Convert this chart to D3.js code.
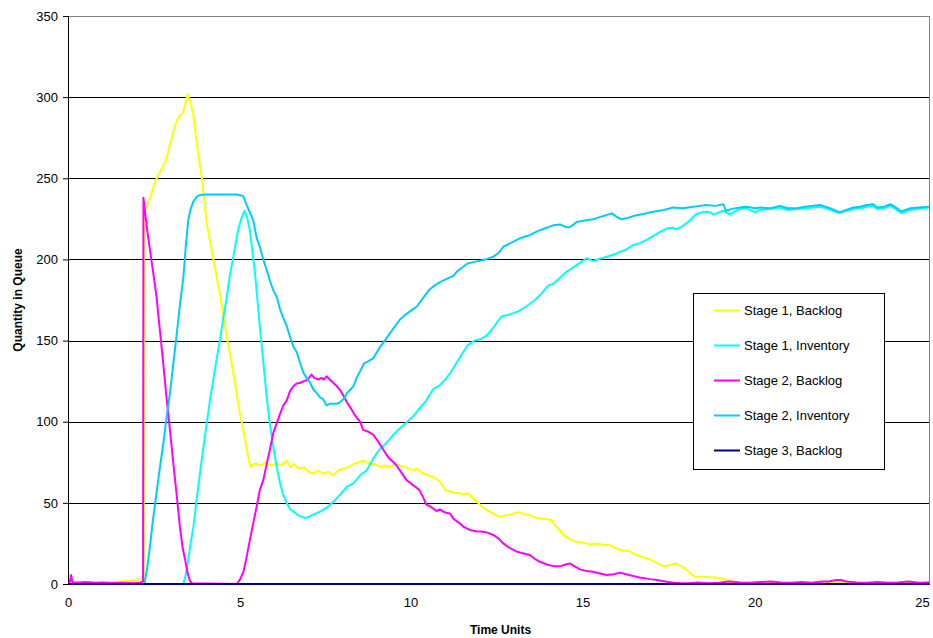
<!DOCTYPE html>
<html>
<head>
<meta charset="utf-8">
<script src="https://cdn.jsdelivr.net/npm/d3@7"></script>
<style>
  body { margin: 0; background: #fff; }
  text { font-family: "Liberation Sans", Arial, sans-serif; }
</style>
</head>
<body>
<div id="chart"></div>
<script>
// series values, [time, quantity]
var stage1Backlog = [[0,0.5],[0.3,1],[0.6,0.5],[0.9,1],[1.2,0.8],[1.5,1.5],[1.8,2],[2.0,2.5],[2.15,3],[2.2,2.5],
  [2.21,228],[2.35,236],[2.5,246],[2.62,252],[2.75,257],[2.86,262],[2.95,270],[3.06,279],[3.15,285],[3.25,289],
  [3.33,290],[3.4,295],[3.47,302],[3.55,297],[3.64,289],[3.75,270],[3.88,251],[4.03,222],[4.12,212],[4.22,200],
  [4.31,190],[4.41,179],[4.51,166],[4.61,152],[4.7,142],[4.8,130],[4.9,117],[4.99,105],[5.07,97],[5.14,89],
  [5.22,80],[5.3,72],[5.4,74],[5.5,74],[5.6,73],[5.75,75],[5.9,73],[6.05,74],[6.2,73],[6.35,76],[6.45,72],
  [6.55,74],[6.7,71],[6.85,72],[7.0,69],[7.12,68],[7.25,70],[7.4,68],[7.55,69],[7.7,67],[7.85,70],[8.0,71],
  [8.15,72],[8.3,74],[8.45,75],[8.6,76],[8.75,74],[8.9,74],[9.06,72],[9.2,73],[9.35,72],[9.5,74],[9.64,73],
  [9.8,72],[10.0,70],[10.15,71],[10.3,68],[10.45,67],[10.6,66],[10.8,63],[10.95,58],[11.09,57],[11.25,56],
  [11.38,56],[11.5,55],[11.62,56],[11.75,53],[11.86,51],[12.0,48],[12.15,45.6],[12.3,44],[12.45,42],[12.59,41.5],
  [12.75,42.5],[12.9,43],[13.0,44],[13.12,44],[13.25,43],[13.41,42.5],[13.55,41],[13.7,40.5],[13.85,40],
  [14.04,39.4],[14.15,36],[14.28,33],[14.4,30],[14.57,27.5],[14.75,26],[14.96,25.5],[15.15,24.5],[15.35,25],
  [15.55,24],[15.74,24],[15.9,22],[16.08,20.5],[16.27,20.5],[16.4,19],[16.51,17.9],[16.7,16.5],[16.9,15.2],
  [17.1,13],[17.28,11],[17.45,11.5],[17.6,12.5],[17.67,12.3],[17.8,11],[17.96,8.6],[18.1,6],[18.2,4.5],
  [18.4,4.5],[18.54,4.5],[18.7,4],[18.83,4],[18.95,3.5],[19.13,2.5],[19.3,1.5],[19.5,1],[19.8,0.8],[20.1,1.2],
  [20.5,0.5],[20.9,1],[21.3,0.5],[21.7,1],[22.1,0.5],[22.4,1.5],[22.7,0.8],[23.1,0.5],[23.5,1],[23.9,0.5],
  [24.3,1.2],[24.7,0.5],[25,1]];

var stage1Inventory = [[0,0],[3.35,0],[3.42,6],[3.49,15],[3.56,25],[3.64,35],[3.73,51],[3.83,68],[3.93,84],
  [4.03,99],[4.12,113],[4.22,126],[4.31,138],[4.41,150],[4.51,164],[4.61,177],[4.7,190],[4.8,201.7],[4.87,210],
  [4.94,218],[5.03,225],[5.12,230],[5.2,226],[5.28,218],[5.35,206],[5.43,191.5],[5.5,175],[5.57,158.5],
  [5.67,137],[5.77,115],[5.86,99],[5.96,84.6],[6.06,72],[6.16,62],[6.25,55],[6.35,50],[6.45,46],[6.55,44.6],
  [6.7,42],[6.85,41],[6.93,40.7],[7.05,42],[7.15,43],[7.32,44.6],[7.51,47],[7.7,50.7],[7.9,55],[8.1,60],
  [8.29,62],[8.48,67],[8.67,70],[8.8,75],[8.96,80.6],[9.1,84],[9.25,87],[9.45,92],[9.64,96],[9.85,100],
  [10.03,103.5],[10.2,108],[10.4,113],[10.6,120],[10.8,122.5],[10.95,126],[11.1,130],[11.3,137],[11.45,142],
  [11.6,147],[11.8,150],[12.0,151],[12.15,153],[12.3,156.5],[12.45,161],[12.6,165],[12.8,166],[13.07,168],
  [13.3,171],[13.56,175],[13.75,179],[13.95,184],[14.09,185],[14.25,188],[14.48,192.5],[14.6,194],[14.77,196.6],
  [14.94,199],[15.06,200.7],[15.25,199],[15.45,200.5],[15.64,201.7],[15.85,203],[16.03,204.8],[16.2,206],
  [16.41,208.9],[16.6,210],[16.8,212],[17.0,214.5],[17.19,217],[17.38,219],[17.55,219.5],[17.67,218.5],
  [17.8,220],[17.96,222.2],[18.1,225],[18.25,228],[18.4,229],[18.54,229.4],[18.65,229],[18.74,227.5],
  [18.9,229],[19.03,230],[19.15,228.5],[19.22,227.5],[19.35,229.5],[19.5,231],[19.7,231.5],[19.95,229],
  [20.1,230.5],[20.4,231],[20.67,232],[20.9,230.5],[21.16,231],[21.4,231.5],[21.6,232],[21.83,232.5],
  [22.0,231.5],[22.2,230],[22.4,228.5],[22.6,230],[22.8,231],[23.0,231.5],[23.2,232.5],[23.38,233],
  [23.5,231],[23.7,231.5],[23.87,233],[24.0,231.5],[24.2,228.5],[24.45,230.5],[24.7,231],[25,232]];

var stage2Backlog = [[0,0.5],[0.05,1],[0.09,5.5],[0.13,1],[0.3,1],[0.5,1.2],[0.8,0.8],[1.0,1],[1.3,0.6],
  [1.6,0.8],[1.9,0.5],[2.1,1],[2.18,1.5],[2.19,238],[2.3,218],[2.4,203],[2.5,188],[2.57,177],[2.67,156],
  [2.77,135],[2.86,115],[2.96,95],[3.06,74],[3.16,54],[3.25,35],[3.33,22],[3.4,15],[3.47,7],[3.54,2],[3.6,0.5],
  [4.9,0],[5.0,3],[5.1,8],[5.19,17],[5.28,27],[5.38,37.5],[5.48,48],[5.57,58],[5.67,64],[5.77,74],[5.86,82.6],
  [5.96,93],[6.06,99],[6.16,105],[6.25,110],[6.35,113],[6.45,119],[6.55,122],[6.64,123.5],[6.75,124],
  [6.85,125],[6.93,125.5],[7.0,127],[7.07,129],[7.15,127],[7.27,126],[7.35,127],[7.43,126],[7.51,128],
  [7.6,126],[7.7,124],[7.8,122],[7.9,119.5],[8.0,116],[8.1,112],[8.19,109],[8.3,105],[8.4,102],[8.48,100],
  [8.57,95],[8.7,94],[8.86,92],[9.0,88],[9.16,82.6],[9.3,78],[9.45,75],[9.54,73],[9.7,68],[9.83,64],
  [10.03,60.7],[10.2,58],[10.3,54],[10.4,49],[10.5,48],[10.7,45],[10.8,46],[10.95,44],[11.09,43.5],[11.2,40],
  [11.38,37.4],[11.5,35],[11.67,33.3],[11.85,32.5],[12.06,32.2],[12.2,31.5],[12.35,30.2],[12.5,28],[12.64,25],
  [12.8,22.5],[13.02,20],[13.2,19],[13.41,17.9],[13.55,15.5],[13.7,13.7],[13.9,12],[14.09,11],[14.3,11],
  [14.45,12],[14.57,12.7],[14.7,11],[14.87,9],[15.05,8],[15.25,7.6],[15.45,6.5],[15.64,5.5],[15.85,6],
  [16.03,7],[16.2,6],[16.41,4.9],[16.6,4],[16.9,3],[17.1,2.5],[17.38,1.4],[17.6,0.8],[17.77,0.6],[18.0,0.5],
  [18.3,1],[18.6,0.5],[18.9,0.8],[19.2,1.5],[19.5,1],[19.8,0.8],[20.1,1.2],[20.4,1.5],[20.7,1],[21.0,0.8],
  [21.3,1.2],[21.6,0.8],[21.9,1.5],[22.1,1.5],[22.3,2.5],[22.45,2.5],[22.6,1.5],[22.9,1],[23.2,0.8],[23.5,1.2],
  [23.8,0.8],[24.1,1],[24.4,1.5],[24.7,0.8],[25,1]];

var stage2Inventory = [[0,0],[2.22,0],[2.3,10],[2.38,23],[2.47,40],[2.57,56],[2.67,72],[2.77,87],[2.86,102],
  [2.96,117.6],[3.06,136],[3.16,154.6],[3.25,172],[3.35,189],[3.42,208],[3.49,224],[3.56,231],[3.64,235.6],
  [3.73,238.5],[3.83,239.7],[4.0,240],[4.5,240],[4.9,240],[5.0,239.5],[5.09,239],[5.19,233.5],[5.28,229],
  [5.38,224],[5.48,213],[5.57,207.8],[5.67,200],[5.77,193.5],[5.86,187],[5.96,181],[6.06,177],[6.16,169],
  [6.25,164],[6.35,159],[6.45,152],[6.55,146],[6.64,143],[6.74,136],[6.84,130],[6.93,127],[7.03,124],
  [7.12,120],[7.22,117.6],[7.32,115],[7.4,114],[7.51,110],[7.6,111],[7.7,111],[7.8,111],[7.9,112],[8.0,114],
  [8.1,117.6],[8.19,119.5],[8.29,122],[8.38,127],[8.48,131],[8.6,136],[8.7,137],[8.86,139],[9.06,146],
  [9.2,150],[9.35,154.6],[9.5,159],[9.64,163],[9.8,166],[10.03,169.5],[10.13,171],[10.3,176],[10.5,181.5],
  [10.65,184],[10.8,186],[11.0,188],[11.2,190],[11.29,192.5],[11.45,195],[11.6,197.5],[11.8,198.5],
  [12.06,199.6],[12.2,200.5],[12.35,201.7],[12.5,204],[12.64,207.8],[12.85,210],[13.12,213],[13.25,214],
  [13.41,215],[13.55,216.5],[13.7,218],[13.9,219.5],[14.09,221],[14.3,221.5],[14.45,220],[14.57,219.8],
  [14.77,223],[15.0,224],[15.25,224.7],[15.5,226.5],[15.79,228.4],[15.95,226],[16.08,224.7],[16.25,225.5],
  [16.41,226.7],[16.7,228],[16.99,229.4],[17.3,230.5],[17.57,232],[17.85,231.5],[18.16,232.5],[18.35,233],
  [18.54,233.5],[18.8,233],[19.03,234],[19.1,230],[19.25,231],[19.5,232],[19.7,232.5],[19.95,231.5],[20.1,232],
  [20.4,231.5],[20.67,233],[20.9,231.5],[21.16,231.5],[21.4,232.5],[21.6,233],[21.83,233.5],[22.0,232.5],
  [22.2,231],[22.4,229],[22.6,230.5],[22.8,232],[23.0,232.5],[23.2,233.5],[23.38,234],[23.5,232],[23.7,232.5],
  [23.87,234],[24.0,232.5],[24.2,229.5],[24.45,231.5],[24.7,232],[25,232.5]];

var stage3Backlog = [[0,0],[25,0]];

var seriesNames = ["Stage 1, Backlog", "Stage 1, Inventory", "Stage 2, Backlog", "Stage 2, Inventory", "Stage 3, Backlog"];
var seriesData = [stage1Backlog, stage1Inventory, stage2Backlog, stage2Inventory, stage3Backlog];
var seriesColors = ["#ffff00", "#00ffff", "#ff00ff", "#00ccff", "#000080"];

var xTicks = [0, 5, 10, 15, 20, 25];
var yTicks = [0, 50, 100, 150, 200, 250, 300, 350];

// set the dimensions and margins of the graph
var margin = {top: 16, right: 4, bottom: 54, left: 68},
    width = 933 - margin.left - margin.right,
    height = 638 - margin.top - margin.bottom;

var svg = d3.select("#chart")
  .append("svg")
    .attr("width", width + margin.left + margin.right)
    .attr("height", height + margin.top + margin.bottom)
  .append("g")
    .attr("transform", "translate(" + margin.left + "," + margin.top + ")");

var x = d3.scaleLinear().domain([0, 25]).range([0, width]);
var y = d3.scaleLinear().domain([0, 350]).range([height, 0]);

// gridlines
svg.append("g")
  .selectAll("line")
  .data(yTicks.filter(function(d) { return d > 0 && d < 350; }))
  .enter().append("line")
    .attr("x1", 0).attr("x2", width)
    .attr("y1", function(d) { return Math.round(y(d)) + 0.5; })
    .attr("y2", function(d) { return Math.round(y(d)) + 0.5; })
    .attr("stroke", "#000")
    .attr("stroke-width", 1);

// plot area border
svg.append("rect")
  .attr("x", 0.5).attr("y", 0.5)
  .attr("width", width).attr("height", height)
  .attr("fill", "none")
  .attr("stroke", "#808080");

// Y axis
var yAxis = svg.append("g")
  .call(d3.axisLeft(y).tickValues(yTicks).tickSize(5).tickPadding(5));
yAxis.select(".domain").attr("stroke", "#000");
yAxis.selectAll("text").style("font-size", "13px").attr("fill", "#000");

// X axis (last label pulled in so it stays inside the picture)
var xAxis = svg.append("g")
  .attr("transform", "translate(0," + height + ")")
  .call(d3.axisBottom(x).tickValues(xTicks).tickSize(0).tickPadding(14));
xAxis.select(".domain").attr("stroke", "#000");
xAxis.selectAll("text").style("font-size", "13px").attr("fill", "#000")
  .attr("dx", function(d) { return d === 25 ? -7 : (d >= 10 ? -2 : 0); });

// lines
var line = d3.line()
  .x(function(d) { return x(d[0]); })
  .y(function(d) { return y(d[1]); });

svg.append("g")
  .selectAll("path")
  .data(seriesData)
  .enter().append("path")
    .attr("d", line)
    .attr("fill", "none")
    .attr("stroke", function(d, i) { return seriesColors[i]; })
    .attr("stroke-width", 2)
    .attr("stroke-linejoin", "round");

// axis titles
svg.append("text")
  .attr("x", width / 2 + 2)
  .attr("y", height + 50)
  .attr("text-anchor", "middle")
  .style("font-size", "12px")
  .style("font-weight", "bold")
  .text("Time Units");

svg.append("text")
  .attr("transform", "translate(" + (-46) + "," + (height / 2) + ") rotate(-90)")
  .attr("text-anchor", "middle")
  .style("font-size", "12px")
  .style("font-weight", "bold")
  .text("Quantity in Queue");

// legend
var legend = svg.append("g")
  .attr("transform", "translate(" + (693 - margin.left) + "," + (293 - margin.top) + ")");

legend.append("rect")
  .attr("x", 0.5).attr("y", 0.5)
  .attr("width", 191).attr("height", 176)
  .attr("fill", "#fff")
  .attr("stroke", "#000");

var rows = legend.selectAll(".row")
  .data(seriesNames)
  .enter().append("g")
    .attr("transform", function(d, i) { return "translate(0," + (17.5 + i * 35) + ")"; });

rows.append("line")
  .attr("x1", 21).attr("x2", 47)
  .attr("y1", 0).attr("y2", 0)
  .attr("stroke", function(d, i) { return seriesColors[i]; })
  .attr("stroke-width", 2);

rows.append("text")
  .attr("x", 51)
  .attr("y", 0)
  .attr("dy", "0.35em")
  .style("font-size", "13px")
  .text(function(d) { return d; });
</script>
</body>
</html>
